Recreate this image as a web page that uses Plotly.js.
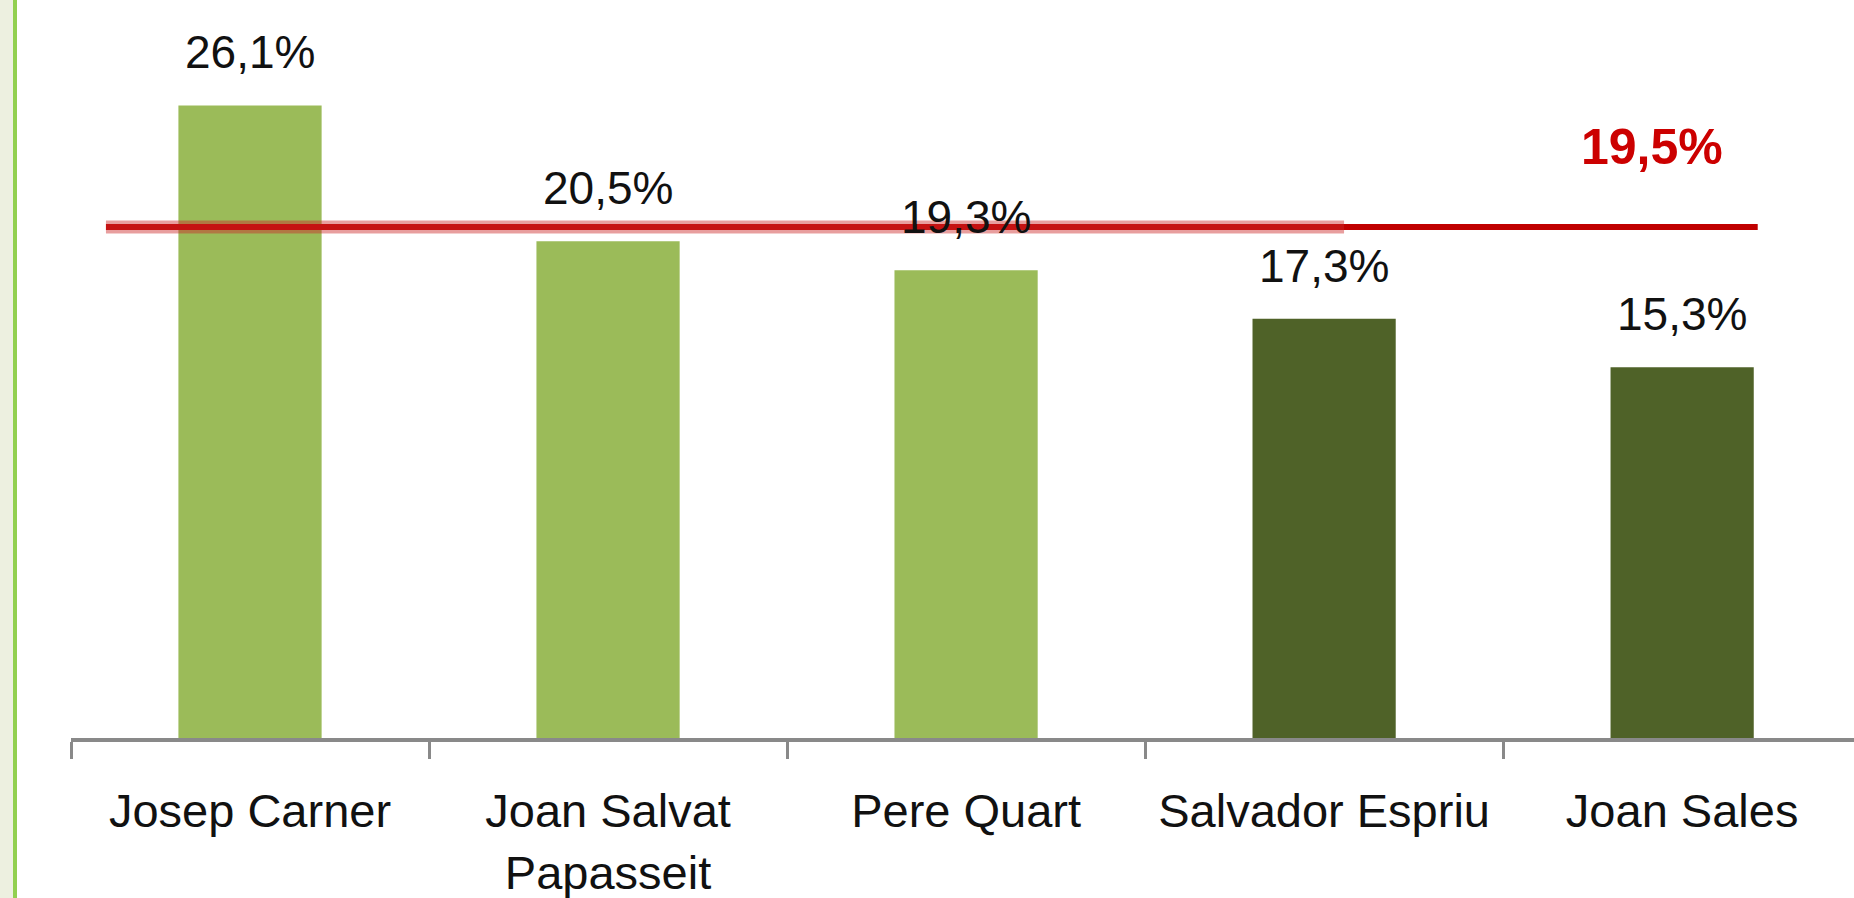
<!DOCTYPE html>
<html>
<head>
<meta charset="utf-8">
<script src="https://cdn.plot.ly/plotly-3.0.1.min.js"></script>
<style>
  html, body { margin: 0; padding: 0; background: #fff; }
  #chart {
    width: 1854px; height: 898px;
    background: linear-gradient(to right, #EDF0E0 0px, #EDF0E0 13px, #92D050 13px, #92D050 17px, #ffffff 17px);
  }
</style>
</head>
<body>
<div id="chart"></div>
<script>
// ---- data ----
const categories = ["Josep Carner", "Joan Salvat<br>Papasseit", "Pere Quart", "Salvador Espriu", "Joan Sales"];
const values = [26.1, 20.5, 19.3, 17.3, 15.3];
const barColors = ["#9BBB59", "#9BBB59", "#9BBB59", "#4F6228", "#4F6228"];
const averageValue = 19.5;

const fmt = v => v.toFixed(1).replace('.', ',') + '%';

const bars = {
  type: 'bar',
  x: categories,
  y: values,
  marker: { color: barColors, line: { width: 0 } },
  hoverinfo: 'none',
  showlegend: false
};

const labelAnnotations = categories.map((c, i) => ({
  x: c, y: values[i], xref: 'x', yref: 'y',
  text: fmt(values[i]),
  showarrow: false,
  yanchor: 'middle',
  yshift: 53,
  font: { family: 'Liberation Sans, Arial, sans-serif', size: 46, color: '#111111' }
}));

const avgAnnotation = {
  x: categories[categories.length - 1], y: averageValue, xref: 'x', yref: 'y2',
  text: '<b>' + fmt(averageValue) + '</b>',
  showarrow: false,
  yanchor: 'middle',
  xshift: -30,
  yshift: 80,
  font: { family: 'Liberation Sans, Arial, sans-serif', size: 50, color: '#CC0000' }
};

const layout = {
  width: 1854, height: 898,
  margin: { l: 71, r: 0, t: 0, b: 160 },
  paper_bgcolor: 'rgba(0,0,0,0)',
  plot_bgcolor: 'rgba(0,0,0,0)',
  bargap: 0.6,
  showlegend: false,
  xaxis: {
    type: 'category',
    range: [-0.5, 4.48],
    showline: true, linecolor: '#898989', linewidth: 4,
    ticks: 'outside', tickson: 'boundaries', ticklen: 17, tickwidth: 3, tickcolor: '#898989',
    showgrid: false, zeroline: false,
    ticklabelstandoff: 29,
    tickfont: { family: 'Liberation Sans, Arial, sans-serif', size: 47, color: '#111111' },
    fixedrange: true
  },
  yaxis: {
    range: [0, 30.45], visible: false, showgrid: false, zeroline: false, fixedrange: true
  },
  yaxis2: {
    overlaying: 'y', range: [0, 28.16], visible: false, showgrid: false, zeroline: false, fixedrange: true
  },
  shapes: [
    { type: 'line', xref: 'paper', yref: 'y2', x0: 0.0196, x1: 0.946, y0: averageValue, y1: averageValue,
      line: { color: '#C00000', width: 6 } },
    { type: 'line', xref: 'paper', yref: 'y2', x0: 0.0196, x1: 0.714, y0: averageValue, y1: averageValue,
      line: { color: 'rgba(205,40,40,0.45)', width: 13 } }
  ],
  annotations: labelAnnotations.concat([avgAnnotation])
};

Plotly.newPlot('chart', [bars], layout, { displayModeBar: false, staticPlot: true });
</script>
</body>
</html>
